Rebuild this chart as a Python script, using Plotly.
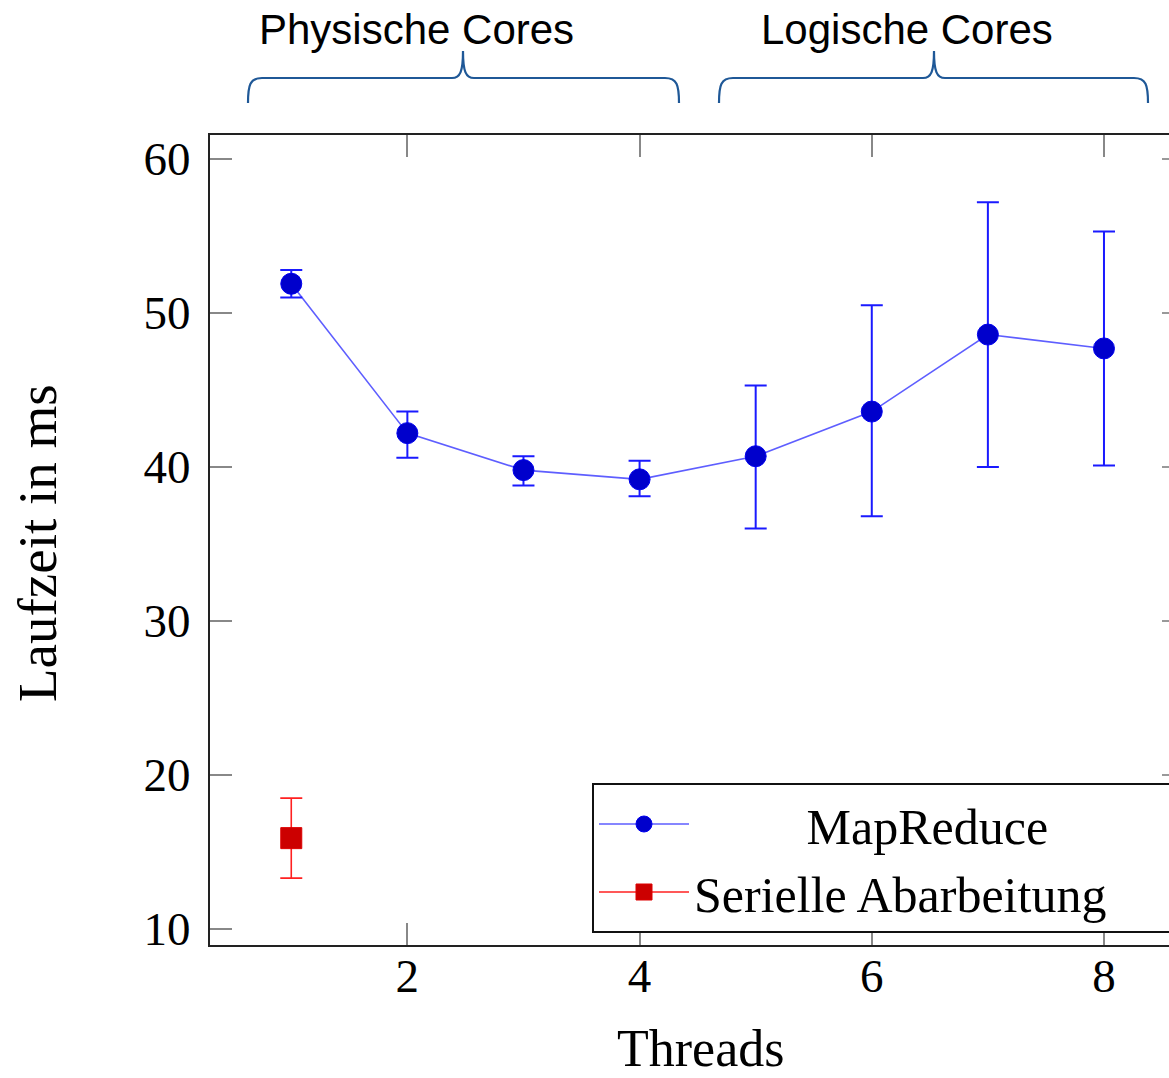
import plotly.graph_objects as go

# ---- data ----
threads = [1, 2, 3, 4, 5, 6, 7, 8]
mapreduce_ms = [51.9, 42.2, 39.8, 39.2, 40.7, 43.6, 48.6, 47.7]
mapreduce_err_plus = [0.9, 1.4, 0.9, 1.2, 4.6, 6.9, 8.6, 7.6]
mapreduce_err_minus = [0.9, 1.6, 1.0, 1.1, 4.7, 6.8, 8.6, 7.6]

serial_threads = [1]
serial_ms = [15.9]
serial_err_plus = [2.6]
serial_err_minus = [2.6]

x_ticks = [2, 4, 6, 8]
y_ticks = [10, 20, 30, 40, 50, 60]

W, H = 1169, 1078
L, T = 210, 135
R = 0
B = H - 945
PW = W - L - R
PH = H - T - B


def px(x, y):
    """reference-image pixel -> paper coordinates"""
    return (x - L) / PW, (H - B - y) / PH


def brace(x0, xm, x1, yb=103, yh=78, yt=51):
    pts = [
        ("M", [(x0, yb)]),
        ("C", [(x0, yb - 18), (x0 + 2, yh), (x0 + 14, yh)]),
        ("L", [(xm - 11, yh)]),
        ("C", [(xm - 3, yh), (xm, yh - 6), (xm, yt)]),
        ("C", [(xm, yh - 6), (xm + 3, yh), (xm + 11, yh)]),
        ("L", [(x1 - 14, yh)]),
        ("C", [(x1 - 2, yh), (x1, yb - 18), (x1, yb)]),
    ]
    s = ""
    for cmd, ps in pts:
        s += cmd + " " + " ".join("%.5f,%.5f" % px(a, b) for a, b in ps) + " "
    return s.strip()


NB = "\u00a0"

fig = go.Figure()

fig.add_trace(go.Scatter(
    x=threads, y=mapreduce_ms, name=NB * 9 + "MapReduce",
    mode="lines+markers",
    line=dict(color="rgba(40,40,255,0.75)", width=1.6),
    marker=dict(symbol="circle", size=21, color="#0000cc",
                line=dict(color="#0000ee", width=1)),
    error_y=dict(type="data", symmetric=False, array=mapreduce_err_plus,
                 arrayminus=mapreduce_err_minus, color="#1a1aff",
                 thickness=2, width=11),
))

fig.add_trace(go.Scatter(
    x=serial_threads, y=serial_ms, name="Serielle Abarbeitung" + NB * 5,
    mode="lines+markers",
    line=dict(color="#ff2020", width=1.6),
    marker=dict(symbol="square", size=21, color="#cc0000",
                line=dict(color="#dd0000", width=1)),
    error_y=dict(type="data", symmetric=False, array=serial_err_plus,
                 arrayminus=serial_err_minus, color="#ff2020",
                 thickness=1.6, width=11),
))

# invisible trace to carry the right-hand tick marks
fig.add_trace(go.Scatter(x=[threads[0]], y=[mapreduce_ms[0]], yaxis="y2",
                         showlegend=False, hoverinfo="skip",
                         mode="markers", marker=dict(opacity=0)))

serif = "Liberation Serif"
sans = "Liberation Sans"

fig.update_layout(
    width=W, height=H,
    margin=dict(l=L, r=R, t=T, b=B, pad=0, autoexpand=False),
    paper_bgcolor="white", plot_bgcolor="white",
    showlegend=True,
    legend=dict(x=px(592, 0)[0], y=px(0, 783)[1], xanchor="left", yanchor="top",
                bordercolor="#111111", borderwidth=2, bgcolor="white",
                font=dict(family=serif, size=50, color="black"),
                itemwidth=90, tracegroupgap=0),
    xaxis=dict(range=[0.3, 8.56], tickvals=x_ticks, ticktext=[str(v) for v in x_ticks],
               ticks="inside", ticklen=22, tickwidth=1.6, tickcolor="#888888",
               showline=True, linecolor="#222222", linewidth=2.2, mirror="ticks",
               showgrid=False, zeroline=False,
               tickfont=dict(family=serif, size=47, color="black"),
               ticklabelstandoff=-12),
    yaxis=dict(range=[8.96, 61.56], tickvals=y_ticks, ticktext=[str(v) for v in y_ticks],
               ticks="inside", ticklen=22, tickwidth=1.6, tickcolor="#888888",
               showline=True, linecolor="#222222", linewidth=2.2, mirror=False,
               showgrid=False, zeroline=False,
               tickfont=dict(family=serif, size=47, color="black"),
               ticklabelstandoff=8),
    yaxis2=dict(range=[8.96, 61.56], tickvals=y_ticks, overlaying="y", side="right",
                ticks="inside", ticklen=7, tickwidth=1.6, tickcolor="#999999",
                showticklabels=False, showline=False, showgrid=False, zeroline=False),
    annotations=[
        dict(text="Threads", xref="paper", yref="paper", x=px(700, 0)[0], y=px(0, 1048)[1],
             xanchor="center", yanchor="middle", showarrow=False,
             font=dict(family=serif, size=52, color="black")),
        dict(text="Laufzeit in ms", xref="paper", yref="paper", x=px(37, 0)[0], y=px(0, 543)[1],
             xanchor="center", yanchor="middle", showarrow=False, textangle=-90,
             font=dict(family=serif, size=55, color="black")),
        dict(text="Physische Cores", xref="paper", yref="paper", x=px(416, 0)[0], y=px(0, 29)[1],
             xanchor="center", yanchor="middle", showarrow=False,
             font=dict(family=sans, size=42, color="black")),
        dict(text="Logische Cores", xref="paper", yref="paper", x=px(907, 0)[0], y=px(0, 29)[1],
             xanchor="center", yanchor="middle", showarrow=False,
             font=dict(family=sans, size=42, color="black")),
    ],
    shapes=[
        dict(type="path", xref="paper", yref="paper", path=brace(248, 463, 679),
             line=dict(color="#1f5897", width=2.2)),
        dict(type="path", xref="paper", yref="paper", path=brace(719, 934, 1148),
             line=dict(color="#1f5897", width=2.2)),
    ],
)

fig.write_html(
    "out.html",
    config={"displayModeBar": False},
    post_script="document.body.style.margin='0px';document.body.style.overflow='hidden';",
)
